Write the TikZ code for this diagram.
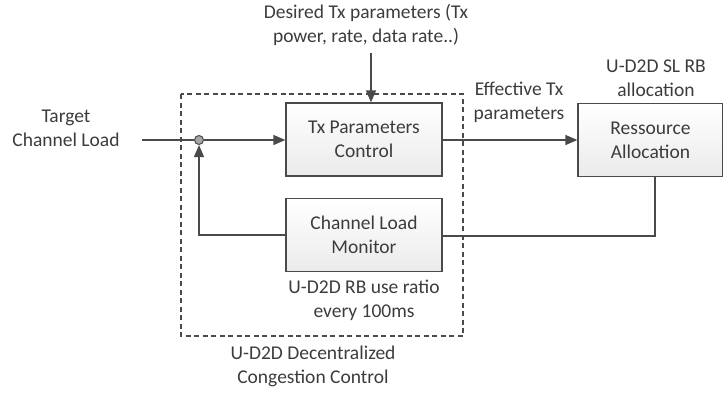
\documentclass[tikz,border=0pt]{standalone}
\usepackage{fontspec}
\setmainfont{Carlito}
\usetikzlibrary{arrows.meta,shadings}
\definecolor{ln}{HTML}{4A4A4A}
\definecolor{tx}{HTML}{3C3C3C}
\tikzset{
  blk/.style={draw=ln, line width=1.3pt, top color=white, bottom color=black!8, shading angle=0, minimum width=156pt, minimum height=73pt, inner sep=0pt, align=center, text=tx},
  lbl/.style={align=center, text=tx, inner sep=0pt},
  wire/.style={draw=ln, line width=1.3pt},
  arr/.style={wire, -{Triangle[length=12pt,width=10pt]}},
}
\begin{document}
\begin{tikzpicture}[x=1pt,y=-1pt,font=\fontsize{19.5}{24}\selectfont]
\useasboundingbox (0,0) rectangle (723,392);
% dashed boundary
\draw[ln, line width=1.1pt, dash pattern=on 5pt off 3.5pt] (181,94) rectangle (463,336);
% blocks
\node[blk] (tx) at (364,139.5) {Tx Parameters\\Control};
\node[blk] (clm) at (364,235) {Channel Load\\Monitor};
\node[blk, minimum width=145pt] (ra) at (650.5,140) {Ressource\\Allocation};
% junction
\node[circle, draw=ln, fill=black!35, line width=1pt, minimum size=9pt, inner sep=0pt] (j) at (199,140) {};
% labels
\node[lbl] (des) at (366,25) {Desired Tx parameters (Tx\\power, rate, data rate..)};
\node[lbl] (tgt) at (66,128.5) {Target\\Channel Load};
\node[lbl] (eff) at (519,102) {Effective Tx\\parameters};
\node[lbl] (sl) at (656,78) {U-D2D SL RB\\allocation};
\node[lbl] (use) at (364,300) {U-D2D RB use ratio\\every 100ms};
\node[lbl] (dcc) at (313,366) {U-D2D Decentralized\\Congestion Control};
% connectors
\coordinate (tin) at (142,140);
\coordinate (dtop) at (371,53);
\draw[wire] (tin) -- (j);
\draw[arr] (j) -- (tx.west |- j);
\draw[arr] (dtop) -- (dtop |- tx.north);
\draw[arr] (tx.east |- j) -- (ra.west |- j);
\coordinate (rb) at (655,236);
\draw[wire] (rb |- ra.south) -- (rb) -- (clm.east |- rb);
\coordinate (fb) at (199,235);
\draw[arr] (clm.west |- fb) -- (fb) -- (j);
\end{tikzpicture}
\end{document}
